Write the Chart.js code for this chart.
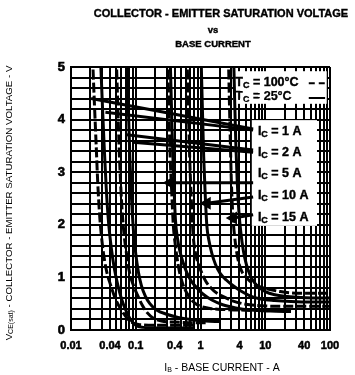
<!DOCTYPE html>
<html>
<head>
<meta charset="utf-8">
<script src="https://cdn.jsdelivr.net/npm/chart.js@4.4.1/dist/chart.umd.min.js"></script>
<style>
  html, body { margin: 0; padding: 0; background: #fff; }
  #wrap { width: 355px; height: 375px; }
</style>
</head>
<body>
<div id="wrap"><canvas id="satChart" width="355" height="375"></canvas></div>
<script>
// values: Ib in A, Vce(sat) in V
const ib1A100 = [0.0215, 0.023, 0.0245, 0.026, 0.028, 0.031, 0.035, 0.041, 0.049, 0.06, 0.074, 0.092, 0.12, 0.2, 0.4, 0.8];
const v1A100 = [5.2, 4.3, 3.5, 2.75, 2.1, 1.55, 1.15, 0.85, 0.58, 0.38, 0.22, 0.13, 0.1, 0.09, 0.09, 0.09];
const ib1A25 = [0.0285, 0.0305, 0.0325, 0.035, 0.038, 0.042, 0.047, 0.053, 0.06, 0.07, 0.083, 0.1, 0.13, 0.2, 0.4, 0.8];
const v1A25 = [5.2, 4.3, 3.5, 2.7, 2.05, 1.55, 1.15, 0.85, 0.6, 0.38, 0.2, 0.09, 0.05, 0.04, 0.04, 0.04];

const ib2A100 = [0.05, 0.053, 0.056, 0.06, 0.065, 0.072, 0.08, 0.092, 0.105, 0.125, 0.15, 0.19, 0.25, 0.4, 0.7, 1.2];
const v2A100 = [5.2, 4.2, 3.3, 2.5, 1.9, 1.45, 1.1, 0.85, 0.68, 0.48, 0.33, 0.22, 0.17, 0.15, 0.14, 0.14];
const ib2A25 = [0.074, 0.077, 0.081, 0.086, 0.092, 0.1, 0.11, 0.122, 0.14, 0.165, 0.21, 0.3, 0.45, 0.7, 1.2, 2.0];
const v2A25 = [5.2, 4.2, 3.3, 2.5, 1.9, 1.45, 1.1, 0.85, 0.65, 0.5, 0.38, 0.3, 0.24, 0.2, 0.17, 0.16];

const ib5A100 = [0.31, 0.325, 0.34, 0.36, 0.38, 0.41, 0.45, 0.5, 0.57, 0.67, 0.8, 1.0, 1.4, 2.2, 4, 8, 20];
const v5A100 = [5.2, 4.2, 3.3, 2.6, 2.0, 1.6, 1.25, 0.98, 0.78, 0.63, 0.52, 0.45, 0.41, 0.39, 0.38, 0.37, 0.37];
const ib5A25 = [0.34, 0.355, 0.37, 0.39, 0.41, 0.44, 0.48, 0.54, 0.62, 0.73, 0.88, 1.1, 1.5, 2.2, 3.5, 6, 12, 25];
const v5A25 = [5.2, 4.3, 3.5, 2.7, 2.1, 1.75, 1.5, 1.28, 1.08, 0.92, 0.8, 0.68, 0.57, 0.48, 0.42, 0.38, 0.36, 0.35];

const ib10A100 = [0.62, 0.65, 0.68, 0.72, 0.77, 0.84, 0.93, 1.05, 1.2, 1.45, 1.8, 2.3, 3.2, 5, 9, 20, 50, 100];
const v10A100 = [5.2, 4.2, 3.3, 2.5, 1.8, 1.45, 1.25, 1.08, 0.93, 0.8, 0.7, 0.63, 0.55, 0.49, 0.46, 0.45, 0.45, 0.45];
const ib10A25 = [1.02, 1.07, 1.12, 1.18, 1.25, 1.35, 1.5, 1.7, 2.0, 2.5, 3.2, 4.2, 5.8, 8.5, 14, 25, 50, 100];
const v10A25 = [5.2, 4.2, 3.3, 2.6, 2.0, 1.7, 1.45, 1.25, 1.08, 0.95, 0.84, 0.74, 0.65, 0.59, 0.56, 0.54, 0.53, 0.53];

const ib15A100 = [2.7, 2.8, 2.9, 3.0, 3.15, 3.35, 3.6, 3.95, 4.4, 5.1, 6.2, 8, 11, 17, 30, 60, 100];
const v15A100 = [5.2, 4.3, 3.5, 2.8, 2.2, 1.8, 1.5, 1.25, 1.1, 1.0, 0.9, 0.83, 0.78, 0.73, 0.7, 0.7, 0.7];
const ib15A25 = [3.25, 3.38, 3.52, 3.7, 3.92, 4.2, 4.6, 5.1, 5.8, 6.8, 8.2, 10, 14, 20, 35, 60, 100];
const v15A25 = [5.2, 4.3, 3.5, 2.8, 2.25, 1.85, 1.5, 1.25, 1.05, 0.9, 0.8, 0.73, 0.67, 0.64, 0.62, 0.61, 0.61];

// leader lines from the curves to the Ic labels
const leadIb1A = [[0.0205, 6.5], [0.034, 6.5]];
const leadV1A = [[4.4, 3.82], [4.14, 3.8]];
const leadIb2A = [[0.073, 6.5], [0.09, 6.5]];
const leadV2A = [[3.71, 3.42], [3.57, 3.38]];
const leadIb5A = [0.34, 6.5];
const leadV5A = [2.8, 2.8];
const leadIb10A = [1.26, 6.5];
const leadV10A = [2.41, 2.53];
const leadIb15A = [3.2, 6.5];
const leadV15A = [2.13, 2.19];

const icLabels = ['1 A', '2 A', '5 A', '10 A', '15 A'];
const tcLabels = ['100°C', '25°C'];
const xTickLabels = ['0.01', '0.04', '0.1', '0.4', '1', '4', '10', '40', '100'];
const yTickLabels = ['0', '1', '2', '3', '4', '5'];

const FONT = '"Liberation Sans", Arial, Helvetica, sans-serif';

function pts(xs, ys) {
  return xs.map((x, i) => ({ x: x, y: ys[i] }));
}

function curve(xs, ys, hot) {
  return {
    data: pts(xs, ys),
    borderColor: '#000',
    borderWidth: 3,
    borderDash: hot ? [10, 3] : [],
    pointRadius: 0,
    cubicInterpolationMode: 'monotone',
    fill: false,
  };
}

function leader(xs, ys, arrow) {
  return {
    data: pts(xs, ys),
    borderColor: '#000',
    backgroundColor: '#000',
    borderWidth: 3,
    pointStyle: 'triangle',
    pointRadius: arrow ? [4.5, 0] : 0,
    rotation: -90,
    fill: false,
  };
}

const datasets = [
  curve(ib1A100, v1A100, true), curve(ib1A25, v1A25, false),
  curve(ib2A100, v2A100, true), curve(ib2A25, v2A25, false),
  curve(ib5A100, v5A100, true), curve(ib5A25, v5A25, false),
  curve(ib10A100, v10A100, true), curve(ib10A25, v10A25, false),
  curve(ib15A100, v15A100, true), curve(ib15A25, v15A25, false),
  leader(leadIb1A[0], leadV1A[0], false), leader(leadIb1A[1], leadV1A[1], false),
  leader(leadIb2A[0], leadV2A[0], false), leader(leadIb2A[1], leadV2A[1], false),
  leader(leadIb5A, leadV5A, true),
  leader(leadIb10A, leadV10A, true),
  leader(leadIb15A, leadV15A, true),
];

// grid at every 1..9 of each decade, and every 0.2 V
const xGrid = [];
for (let d = -2; d < 2; d++) {
  for (let k = 1; k < 10; k++) xGrid.push(+(k * Math.pow(10, d)).toPrecision(3));
}
xGrid.push(100);
const yGrid = [];
for (let k = 0; k <= 25; k++) yGrid.push(+(k * 0.2).toFixed(1));

// draws text runs with subscripts, e.g. I + C; heavy adds a thin stroke
function drawRuns(ctx, x, y, runs, align, heavy) {
  let w = 0;
  runs.forEach(r => {
    ctx.font = r.f;
    w += ctx.measureText(r.t).width;
  });
  let cx = align === 'center' ? x - w / 2 : x;
  ctx.textAlign = 'left';
  ctx.lineWidth = heavy || 0;
  runs.forEach(r => {
    ctx.font = r.f;
    ctx.fillText(r.t, cx, y + (r.dy || 0));
    if (heavy) ctx.strokeText(r.t, cx, y + (r.dy || 0));
    cx += ctx.measureText(r.t).width;
  });
}

const boxPlugin = {
  id: 'labelBoxes',
  beforeDatasetsDraw(chart) {
    const { ctx, scales: { x, y } } = chart;
    ctx.save();
    ctx.fillStyle = '#fff';
    // Tc legend box
    let l = x.getPixelForValue(3.17), r = x.getPixelForValue(89);
    let t = y.getPixelForValue(4.92), b = y.getPixelForValue(4.3);
    ctx.fillRect(l, t, r - l, b - t);
    // Ic label box
    l = x.getPixelForValue(6.2); r = x.getPixelForValue(63);
    t = y.getPixelForValue(3.99); b = y.getPixelForValue(1.98);
    ctx.fillRect(l, t, r - l, b - t);
    ctx.restore();
  },
};

const textPlugin = {
  id: 'texts',
  afterDraw(chart) {
    const { ctx, scales: { x, y } } = chart;
    ctx.save();
    ctx.fillStyle = '#000';
    ctx.strokeStyle = '#000';
    ctx.textBaseline = 'middle';

    const b11 = 'bold 11px ' + FONT;
    drawRuns(ctx, 221, 14, [{ t: 'COLLECTOR - EMITTER SATURATION VOLTAGE', f: b11 }], 'center', 0.4);
    drawRuns(ctx, 213, 30, [{ t: 'vs', f: 'bold 9.5px ' + FONT }], 'center', 0.4);
    drawRuns(ctx, 213, 44, [{ t: 'BASE CURRENT', f: 'bold 9.5px ' + FONT }], 'center', 0.4);

    // x axis title
    const r10 = '10.5px ' + FONT;
    drawRuns(ctx, 222, 368, [
      { t: 'I', f: r10 }, { t: 'B', f: '7px ' + FONT, dy: 2 },
      { t: ' - BASE CURRENT - A', f: r10 },
    ], 'center');

    // y axis title
    ctx.save();
    ctx.translate(9, 203);
    ctx.rotate(-Math.PI / 2);
    const r9 = '9.7px ' + FONT;
    drawRuns(ctx, 0, 0, [
      { t: 'V', f: r9 }, { t: 'CE(sat)', f: '7px ' + FONT, dy: 2 },
      { t: ' - COLLECTOR - EMITTER SATURATION VOLTAGE - V', f: r9 },
    ], 'center');
    ctx.restore();

    // Tc legend
    const b12 = 'bold 12.5px ' + FONT;
    const b9 = 'bold 9px ' + FONT;
    const tx = x.getPixelForValue(3.45);
    tcLabels.forEach((lab, i) => {
      const ty = y.getPixelForValue(i === 0 ? 4.71 : 4.43);
      drawRuns(ctx, tx, ty, [{ t: 'T', f: b12 }, { t: 'C', f: b9, dy: 3 }, { t: ' = ' + lab, f: b12 }], 'left', 0.4);
      ctx.beginPath();
      ctx.lineWidth = 2;
      ctx.setLineDash(i === 0 ? [6, 4] : []);
      ctx.moveTo(x.getPixelForValue(47), ty + 1);
      ctx.lineTo(x.getPixelForValue(84), ty + 1);
      ctx.stroke();
    });
    ctx.setLineDash([]);

    // Ic labels
    const icV = [3.78, 3.37, 2.97, 2.55, 2.13];
    const lx = x.getPixelForValue(7.7);
    icLabels.forEach((lab, i) => {
      drawRuns(ctx, lx, y.getPixelForValue(icV[i]), [
        { t: 'I', f: b12 }, { t: 'C', f: b9, dy: 3 }, { t: ' = ' + lab, f: b12 },
      ], 'left', 0.4);
    });
    ctx.restore();
  },
};

new Chart(document.getElementById('satChart'), {
  type: 'line',
  data: { datasets: datasets },
  plugins: [boxPlugin, textPlugin],
  options: {
    responsive: false,
    devicePixelRatio: 1,
    animation: false,
    layout: { padding: { top: 67, right: 25, left: 0, bottom: 0 } },
    plugins: {
      legend: { display: false },
      title: { display: false },
      tooltip: { enabled: false },
    },
    scales: {
      x: {
        type: 'logarithmic',
        min: 0.01,
        max: 100,
        afterBuildTicks: s => { s.ticks = xGrid.map(v => ({ value: v })); },
        afterFit: s => { s.height = 45; },
        grid: { color: '#000', lineWidth: 2, drawTicks: false },
        border: { color: '#000', width: 2 },
        ticks: {
          autoSkip: false,
          maxRotation: 0,
          padding: 9,
          color: '#000',
          textStrokeColor: '#000',
          textStrokeWidth: 0.5,
          font: { family: FONT, size: 11, weight: 'bold' },
          callback: v => xTickLabels.find(l => Math.abs(parseFloat(l) - v) / v < 1e-6) || '',
        },
      },
      y: {
        type: 'linear',
        min: 0,
        max: 5,
        afterBuildTicks: s => { s.ticks = yGrid.map(v => ({ value: v })); },
        afterFit: s => { s.width = 71; },
        grid: { color: '#000', lineWidth: 2, drawTicks: false },
        border: { color: '#000', width: 2 },
        ticks: {
          autoSkip: false,
          padding: 6,
          color: '#000',
          textStrokeColor: '#000',
          textStrokeWidth: 0.6,
          font: { family: FONT, size: 13, weight: 'bold' },
          callback: v => yTickLabels.find(l => Math.abs(parseFloat(l) - v) < 1e-6) || '',
        },
      },
    },
  },
});
</script>
</body>
</html>
